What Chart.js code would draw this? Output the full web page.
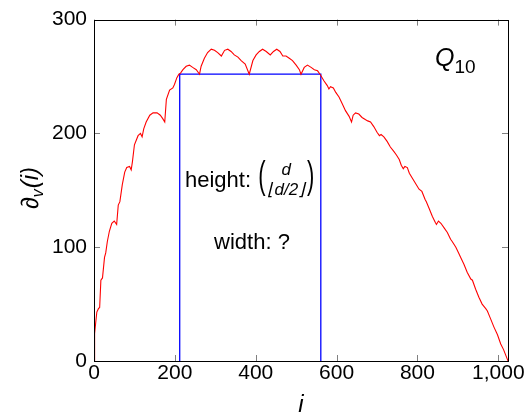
<!DOCTYPE html>
<html><head><meta charset="utf-8">
<script src="https://cdn.jsdelivr.net/npm/chart.js@4/dist/chart.umd.min.js"></script>
<style>html,body{margin:0;padding:0;background:#fff}#wrap{width:528px;height:417px}</style>
</head><body><div id="wrap"><canvas id="c" width="528" height="417"></canvas></div>
<script>
// index i (size of the set)
const iValues = [0,1,2,4,7,11,14,17,21,26,29,33,38,44,50,56,60,64,70,76,81,88,92,95,100,109,115,119,123,129,138,146,156,164,170,175,179,187,195,199,205,210,214,220,228,236,244,253,261,265,273,281,290,298,306,315,323,331,339,347,356,364,374,384,393,401,409,417,426,436,444,452,460,467,475,483,491,500,508,512,520,528,537,545,553,559,569,577,581,585,592,598,606,614,622,631,637,641,647,655,663,672,677,684,692,700,706,710,717,725,733,742,748,755,760,765,769,775,780,792,804,811,819,822,829,837,844,847,852,858,866,874,882,886,895,903,907,915,923,932,936,944,952,960,969,973,981,989,998,1006,1013,1023,1024];
// vertex boundary value at i
const boundaryValues = [0,10,24,33,43,46,47,71,73,91,95,105,114,121,123,120,137,140,155,166,170,171,168,175,190,198,200,197,204,210,216,218,218,216,213,210,230,238,240,243,249,252,253,256,259,260,258,256,252,259,266,271,274,273,271,268,273,274,272,269,267,264,261,252,264,269,272,274,272,269,272,274,272,268,268,266,264,260,256,252,258,260,258,256,255,252,246,242,239,241,240,236,232,226,220,215,210,216,218,217,214,212,211,210,206,201,198,199,197,193,188,184,181,177,172,169,171,170,165,158,151,149,142,140,134,127,122,120,123,121,117,113,107,105,100,94,91,85,78,72,71,63,56,50,46,44,37,30,23,15,10,1,0];
// rectangle corners
const rectI = [212,212,561,561];
const rectV = [0,252,252,0];
// ticks
const xTicks = [0,200,400,600,800,1000];
const yTicks = [0,100,200,300];

const FONT = "'Liberation Sans', Arial, sans-serif";
const TICKSIZE = 21;

function tallParen(ctx, ch, x, y) {
  ctx.save();
  ctx.font = "22px " + FONT;
  ctx.translate(x, y);
  ctx.scale(1, 1.8);
  ctx.fillText(ch, 0, 0);
  const w = ctx.measureText(ch).width;
  ctx.restore();
  return w;
}

const decor = {
  id: 'decor',
  afterDraw(chart) {
    const ctx = chart.ctx, a = chart.chartArea;
    const xs = chart.scales.x, ys = chart.scales.y;
    ctx.save();
    // tick marks (inward, mirrored)
    ctx.strokeStyle = '#808080'; ctx.lineWidth = 1;
    ctx.beginPath();
    xTicks.forEach(v => {
      const p = Math.round(xs.getPixelForValue(v)) + 0.5;
      ctx.moveTo(p, a.bottom); ctx.lineTo(p, a.bottom - 6);
      ctx.moveTo(p, a.top); ctx.lineTo(p, a.top + 6);
    });
    yTicks.forEach(v => {
      const p = Math.round(ys.getPixelForValue(v)) + 0.5;
      ctx.moveTo(a.left, p); ctx.lineTo(a.left + 6, p);
      ctx.moveTo(a.right, p); ctx.lineTo(a.right - 6, p);
    });
    ctx.stroke();
    // frame
    ctx.strokeStyle = '#000'; ctx.lineWidth = 1;
    ctx.strokeRect(Math.round(a.left) + 0.5, Math.round(a.top) + 0.5, Math.round(a.right - a.left), Math.round(a.bottom - a.top));

    ctx.fillStyle = '#000';
    ctx.textBaseline = 'alphabetic';
    // Q_10 label
    ctx.font = "italic 25px " + FONT;
    ctx.textAlign = 'left';
    ctx.fillText('Q', 435, 66);
    const qw = ctx.measureText('Q').width;
    ctx.font = "19px " + FONT;
    ctx.fillText('10', 435 + qw, 73);

    // x axis title
    ctx.font = "italic 24px " + FONT;
    ctx.textAlign = 'center';
    ctx.fillText('i', (a.left + a.right) / 2, 412);

    // y axis title (rotated)
    ctx.save();
    ctx.translate(38, 188);
    ctx.rotate(-Math.PI / 2);
    ctx.textAlign = 'left';
    ctx.font = "italic 24px " + FONT;
    const w1 = ctx.measureText('\u2202').width;
    ctx.font = "italic 16px " + FONT;
    const w2 = ctx.measureText('v').width;
    ctx.font = "italic 24px " + FONT;
    const w3 = ctx.measureText('(i)').width;
    let x0 = -(w1 + w2 + w3 + 1) / 2;
    ctx.fillText('\u2202', x0, 0);
    ctx.font = "italic 16px " + FONT;
    ctx.fillText('v', x0 + w1, 5);
    ctx.font = "italic 24px " + FONT;
    ctx.fillText('(i)', x0 + w1 + w2 + 1, 0);
    ctx.restore();

    // annotation: height: binom(d, floor(d/2))
    ctx.textAlign = 'left';
    ctx.font = "22px " + FONT;
    let hx = 185;
    const hy = 187;
    ctx.fillText('height: ', hx, hy);
    hx += ctx.measureText('height: ').width + 1;
    hx += tallParen(ctx, '(', hx, hy + 1) + 2;
    ctx.font = "italic 17px " + FONT;
    const fw = ctx.measureText('\u230Ad/2\u230B').width;
    ctx.textAlign = 'center';
    ctx.fillText('d', hx + fw / 2, hy - 12);
    ctx.fillText('\u230Ad/2\u230B', hx + fw / 2, hy + 8);
    hx += fw + 2;
    ctx.textAlign = 'left';
    tallParen(ctx, ')', hx, hy + 1);

    ctx.font = "22px " + FONT;
    ctx.textAlign = 'center';
    ctx.fillText('width: ?', 252, 249);
    ctx.restore();
  }
};

new Chart(document.getElementById('c'), {
  type: 'line',
  data: {
    datasets: [
      {
        data: iValues.map((v, k) => ({x: v, y: boundaryValues[k]})),
        borderColor: '#ff0000', borderWidth: 1.1, pointRadius: 0, tension: 0, fill: false
      },
      {
        data: rectI.map((v, k) => ({x: v, y: rectV[k]})),
        borderColor: '#0000ff', borderWidth: 1.3, pointRadius: 0, tension: 0, fill: false
      }
    ]
  },
  options: {
    responsive: false,
    animation: false,
    devicePixelRatio: 1,
    layout: { padding: { left: 0, right: 20, top: 16, bottom: 0 } },
    plugins: { legend: { display: false }, tooltip: { enabled: false } },
    scales: {
      x: {
        type: 'linear', min: 0, max: 1024,
        afterBuildTicks: s => { s.ticks = xTicks.map(v => ({value: v})); },
        afterFit: s => { s.height = 56; },
        grid: { display: false, drawTicks: false },
        border: { display: false },
        ticks: { color: '#000', padding: 0, maxRotation: 0, font: { family: FONT, size: TICKSIZE },
                 callback: v => v.toLocaleString('en-US') }
      },
      y: {
        type: 'linear', min: 0, max: 300,
        afterBuildTicks: s => { s.ticks = yTicks.map(v => ({value: v})); },
        afterFit: s => { s.width = 94; },
        grid: { display: false, drawTicks: false },
        border: { display: false },
        ticks: { color: '#000', padding: 7, font: { family: FONT, size: TICKSIZE } }
      }
    }
  },
  plugins: [decor]
});
</script>
</body></html>
